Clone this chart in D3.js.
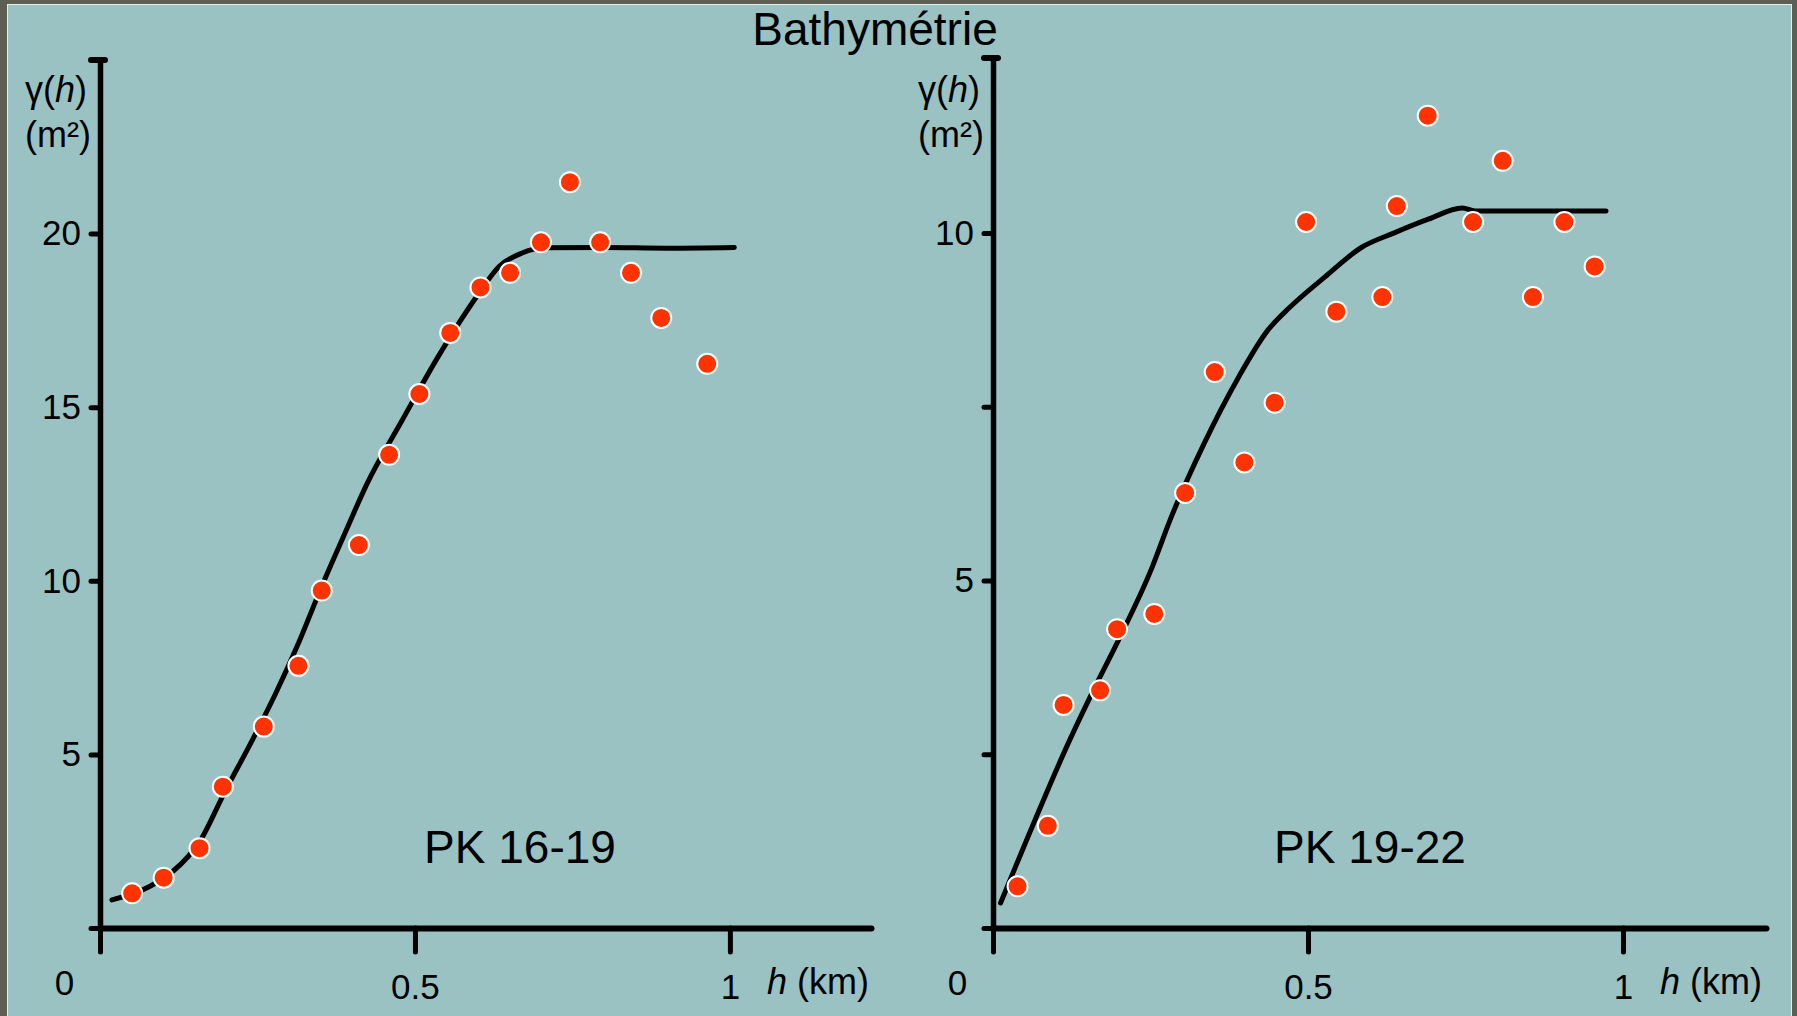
<!DOCTYPE html>
<html>
<head>
<meta charset="utf-8">
<script src="https://cdn.jsdelivr.net/npm/d3@7"></script>
<style>
  html, body { margin: 0; padding: 0; background: #5d5f52; }
  svg { display: block; }
  text { font-family: 'Liberation Sans', Arial, sans-serif; fill: #000; }
</style>
</head>
<body>
<div id="graph"></div>
<script>
// The data...
var titleText  = 'Bathymétrie';
var panelNames = [ 'PK 16-19', 'PK 19-22' ];

// PK 16-19 : experimental variogram points (h in km, gamma in m2)
var leftPointsH = [ 0.051, 0.101, 0.158, 0.195, 0.260, 0.315, 0.352, 0.411, 0.459, 0.507,
                    0.556, 0.604, 0.651, 0.700, 0.746, 0.794, 0.843, 0.891, 0.964 ];
var leftPointsV = [ 1.0, 1.45, 2.30, 4.07, 5.80, 7.55, 9.72, 11.03, 13.63, 15.38,
                    17.14, 18.45, 18.87, 19.75, 21.48, 19.75, 18.87, 17.57, 16.25 ];

// PK 16-19 : fitted model
var leftCurveH = [ 0.019, 0.078, 0.115, 0.160, 0.197, 0.242, 0.279, 0.315, 0.352, 0.390, 0.424,
                   0.479, 0.534, 0.570, 0.598, 0.634, 0.670, 0.707, 0.800, 0.900, 1.007 ];
var leftCurveV = [ 0.81, 1.19, 1.62, 2.54, 3.88, 5.42, 6.76, 8.2, 9.84, 11.42, 12.8,
                   14.6, 16.37, 17.43, 18.19, 19.06, 19.44, 19.59, 19.6, 19.58, 19.6 ];

// PK 19-22 : experimental variogram points
var rightPointsH = [ 0.039, 0.087, 0.112, 0.170, 0.197, 0.256, 0.305, 0.352, 0.399, 0.447,
                     0.497, 0.545, 0.618, 0.641, 0.690, 0.762, 0.809, 0.857, 0.907, 0.955 ];
var rightPointsV = [ 0.60, 1.47, 3.21, 3.42, 4.30, 4.52, 6.26, 8.0, 6.70, 7.56,
                     10.16, 8.87, 9.08, 10.39, 11.69, 10.16, 11.04, 9.08, 10.16, 9.52 ];

// PK 19-22 : fitted model
var rightCurveH = [ 0.012, 0.080, 0.117, 0.162, 0.199, 0.253, 0.281, 0.335, 0.390, 0.436,
                    0.472, 0.527, 0.586, 0.636, 0.691, 0.745, 0.765, 0.850, 0.973 ];
var rightCurveV = [ 0.36, 1.84, 2.61, 3.47, 4.14, 5.20, 5.87, 6.97, 7.93, 8.60,
                    8.94, 9.37, 9.80, 10.0, 10.2, 10.36, 10.32, 10.32, 10.32 ];

// Axis ticks and their labels
var leftYTicks   = [ 0, 5, 10, 15, 20 ];
var leftYLabels  = [ '', '5', '10', '15', '20' ];
var rightYTicks  = [ 0, 2.5, 5, 7.5, 10 ];
var rightYLabels = [ '', '', '5', '', '10' ];
var xTicks       = [ 0, 0.5, 1 ];
var xTickLabels  = [ '0', '0.5', '1' ];

var width  = 1797;
var height = 1016;

var colours = { frame: '#5d5f52', panel: '#9bc2c2', dot: '#ff3300' };

// Layout of the two panels (screen space)
var panels = [
    { name: panelNames[0], ptsH: leftPointsH, ptsV: leftPointsV, crvH: leftCurveH, crvV: leftCurveV,
      yTicks: leftYTicks, yLabels: leftYLabels,
      xRange: [ 100, 871 ], xMax: 1.224, yRange: [ 928, 60 ], yMax: 25.0, nameX: 520 },
    { name: panelNames[1], ptsH: rightPointsH, ptsV: rightPointsV, crvH: rightCurveH, crvV: rightCurveV,
      yTicks: rightYTicks, yLabels: rightYLabels,
      xRange: [ 993, 1766 ], xMax: 1.227, yRange: [ 928, 58 ], yMax: 12.52, nameX: 1370 }
];

var svg = d3.select('#graph').append('svg')
            .attr('width', width)
            .attr('height', height);

// Frame: dark border, thin light line, teal panel
svg.append('rect').attr('x', 0).attr('y', 0).attr('width', width).attr('height', height)
   .attr('fill', colours.frame);
svg.append('rect').attr('x', 7).attr('y', 4).attr('width', 1785).attr('height', height - 4)
   .attr('fill', '#e8eeee');
svg.append('rect').attr('x', 8).attr('y', 5).attr('width', 1783).attr('height', height - 5)
   .attr('fill', colours.panel);

svg.append('text')
   .attr('x', 875).attr('y', 45)
   .attr('text-anchor', 'middle')
   .attr('font-size', '46px')
   .text(titleText);

panels.forEach(function (p)
{
    var xScale = d3.scaleLinear().domain([ 0, p.xMax ]).range(p.xRange);
    var yScale = d3.scaleLinear().domain([ 0, p.yMax ]).range(p.yRange);

    var g = svg.append('g');

    // x axis
    var xAxis = d3.axisBottom(xScale)
                  .tickValues(xTicks)
                  .tickSize(24)
                  .tickSizeOuter(0)
                  .tickPadding(22)
                  .tickFormat(function (d, i) { return xTickLabels[i]; });

    var gx = g.append('g')
              .attr('transform', 'translate(0,' + yScale(0) + ')')
              .call(xAxis);
    gx.select('.domain').attr('stroke-width', 6).attr('stroke-linecap', 'round');
    gx.selectAll('.tick line').attr('stroke-width', 5).attr('stroke-linecap', 'round');
    gx.selectAll('.tick text')
      .attr('font-size', '35px')
      .attr('font-family', "'Liberation Sans', Arial, sans-serif")
      .attr('fill', '#000')
      .attr('dx', function (d) { return d === 0 ? -36 : 0; })
      .attr('dy', function (d) { return d === 0 ? '0.6em' : '0.71em'; });

    // y axis
    var yAxis = d3.axisLeft(yScale)
                  .tickValues(p.yTicks)
                  .tickSize(9)
                  .tickSizeOuter(0)
                  .tickPadding(10)
                  .tickFormat(function (d, i) { return p.yLabels[i]; });

    var gy = g.append('g')
              .attr('transform', 'translate(' + xScale(0) + ',0)')
              .call(yAxis);
    gy.select('.domain').attr('stroke-width', 5.5).attr('stroke-linecap', 'round');
    gy.selectAll('.tick line').attr('stroke-width', 5).attr('stroke-linecap', 'round');
    gy.selectAll('.tick text')
      .attr('font-size', '35px')
      .attr('font-family', "'Liberation Sans', Arial, sans-serif")
      .attr('fill', '#000');

    // cap on top of the y axis
    g.append('line')
     .attr('x1', xScale(0) - 9).attr('x2', xScale(0) + 5)
     .attr('y1', yScale(p.yMax)).attr('y2', yScale(p.yMax))
     .attr('stroke', '#000').attr('stroke-width', 6).attr('stroke-linecap', 'round');

    // y axis title
    var yt = g.append('text')
              .attr('x', xScale(0) - 75).attr('y', 102)
              .attr('font-size', '36px');
    yt.append('tspan').text('γ(');
    yt.append('tspan').attr('font-style', 'italic').text('h');
    yt.append('tspan').text(')');

    g.append('text')
     .attr('x', xScale(0) - 75).attr('y', 147)
     .attr('font-size', '36px')
     .text('(m²)');

    // x axis title
    var xt = g.append('text')
              .attr('x', xScale(1) + 37).attr('y', 994)
              .attr('font-size', '36px');
    xt.append('tspan').attr('font-style', 'italic').text('h');
    xt.append('tspan').text(' (km)');

    // panel name
    g.append('text')
     .attr('x', p.nameX).attr('y', 863)
     .attr('text-anchor', 'middle')
     .attr('font-size', '46px')
     .text(p.name);

    // model curve
    var line = d3.line()
                 .x(function (d) { return xScale(d[0]); })
                 .y(function (d) { return yScale(d[1]); })
                 .curve(d3.curveMonotoneX);

    g.append('path')
     .datum(d3.zip(p.crvH, p.crvV))
     .attr('d', line)
     .attr('fill', 'none')
     .attr('stroke', '#000')
     .attr('stroke-width', 5)
     .attr('stroke-linecap', 'round')
     .attr('stroke-linejoin', 'round');

    // experimental points
    g.selectAll('circle')
     .data(d3.zip(p.ptsH, p.ptsV))
     .enter()
     .append('circle')
     .attr('cx', function (d) { return xScale(d[0]); })
     .attr('cy', function (d) { return yScale(d[1]); })
     .attr('r', 10)
     .attr('fill', colours.dot)
     .attr('stroke', '#fff')
     .attr('stroke-width', 2);
});
</script>
</body>
</html>
